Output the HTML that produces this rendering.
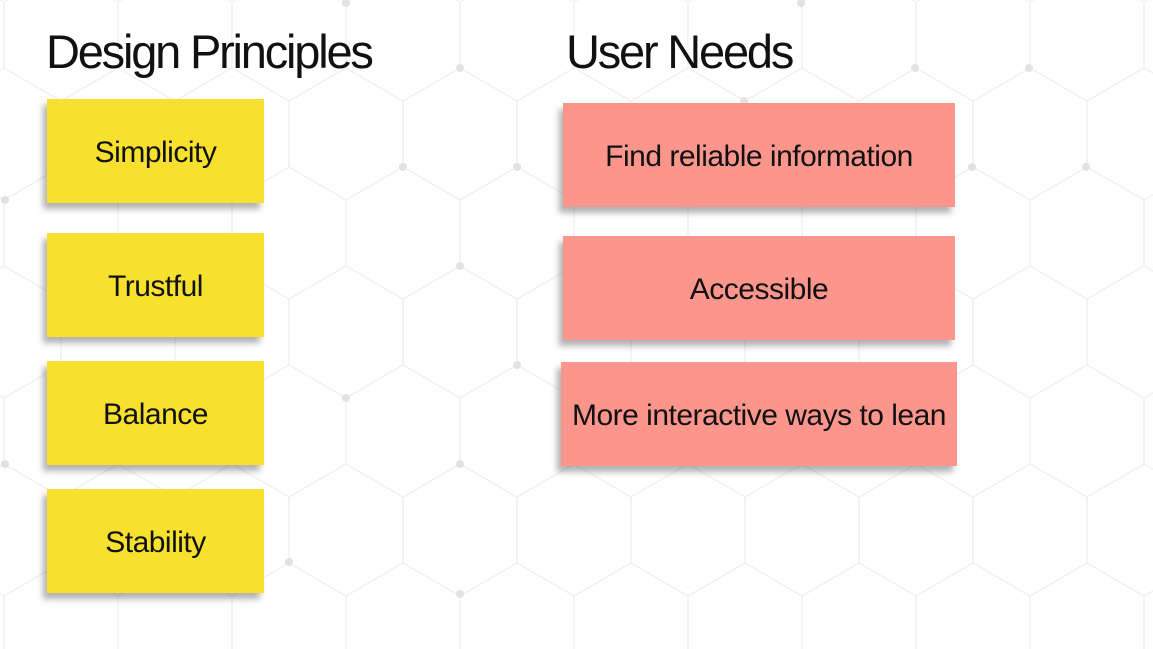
<!DOCTYPE html>
<html><head><meta charset="utf-8"><style>
html,body{margin:0;padding:0;width:1153px;height:649px;overflow:hidden}
body{background:#fff;position:relative;font-family:"Liberation Sans",sans-serif;}
#wrap{position:absolute;left:0;top:0;width:1153px;height:649px;overflow:hidden}
svg{position:absolute;left:0;top:0;display:block;overflow:hidden}
.t{position:absolute;font-size:47px;color:#111;letter-spacing:-2.2px;top:26px;line-height:52px}
.b{position:absolute;display:flex;align-items:center;justify-content:center;font-size:30px;color:#111;letter-spacing:-0.5px;box-shadow:-4px 6px 6px rgba(0,0,0,0.3);padding-top:4px;box-sizing:border-box}
.y{background:#f8e02f;left:47px;width:217px;height:104px}
.p{background:#fc968d}
</style></head><body><div id="wrap">
<svg width="1153" height="649" id="g"></svg>
<script>
var s='';
for(var j=-1;j<6;j++){for(var i=-5;i<7;i++){var cx=460+114*i+(Math.abs(j)%2?57:0),cy=134+99*j;
var p=[[0,-66],[57,-33],[57,33],[0,66],[-57,33],[-57,-33]].map(function(a){return (cx+a[0])+','+(cy+a[1])}).join(' ');
s+='<polygon points="'+p+'" fill="none" stroke="#f0f0f0" stroke-width="1.2"/>';}}
[[346,3],[460,68],[403,167],[517,167],[460,266],[517,365],[346,398],[460,464],[289,562],[460,594],[5,200],[5,464],[915,68],[1029,68],[972,167],[1086,167],[744,101],[801,3]].forEach(function(d){s+='<circle cx="'+d[0]+'" cy="'+d[1]+'" r="4" fill="#e2e2e2"/>';});
document.getElementById('g').innerHTML=s;
</script>
<div class="t" style="left:46px">Design Principles</div>
<div class="t" style="left:566px">User Needs</div>
<div class="b y" style="top:99px">Simplicity</div>
<div class="b y" style="top:233px">Trustful</div>
<div class="b y" style="top:361px">Balance</div>
<div class="b y" style="top:489px">Stability</div>
<div class="b p" style="left:563px;top:103px;width:392px;height:104px">Find reliable information</div>
<div class="b p" style="left:563px;top:236px;width:392px;height:104px">Accessible</div>
<div class="b p" style="left:561px;top:362px;width:396px;height:104px">More interactive ways to lean</div>
</div></body></html>
